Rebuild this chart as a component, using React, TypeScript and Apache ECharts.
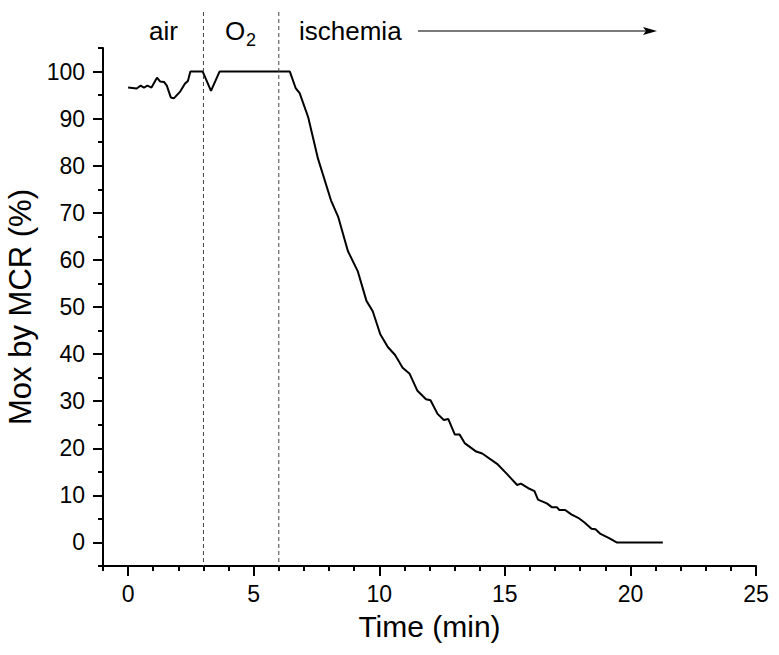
import React, { useEffect, useRef } from "react";
import * as echarts from "echarts";

const timeMin = [0, 0.34, 0.5, 0.63, 0.77, 0.93, 1.15, 1.27, 1.43, 1.54, 1.7, 1.82, 2.08, 2.26, 2.38, 2.48, 2.97, 3.3, 3.64, 6.44, 6.67, 6.83, 7.17, 7.56, 8.08, 8.36, 8.75, 9.15, 9.49, 9.74, 10.04, 10.34, 10.63, 10.93, 11.21, 11.52, 11.86, 12.04, 12.32, 12.57, 12.75, 13.01, 13.2, 13.4, 13.86, 14.1, 14.69, 15.09, 15.49, 15.64, 15.98, 16.18, 16.32, 16.67, 16.87, 17.07, 17.17, 17.4, 17.66, 17.96, 18.16, 18.45, 18.61, 18.81, 19.15, 19.45, 21.29];
const moxPct = [96.6, 96.4, 97.0, 96.6, 97.0, 96.6, 98.7, 97.9, 97.8, 97.0, 94.5, 94.3, 95.8, 97.4, 98.0, 100, 100, 95.9, 100, 100, 96.5, 95.4, 90.3, 81.5, 72.6, 69.2, 61.9, 57.5, 51.3, 49.1, 44.2, 41.5, 39.8, 37.1, 35.8, 32.2, 30.4, 30.2, 27.3, 26.0, 26.2, 22.9, 22.9, 21.1, 19.3, 18.9, 16.7, 14.5, 12.2, 12.5, 11.4, 10.9, 9.1, 8.3, 7.5, 7.5, 6.9, 6.9, 5.9, 5.1, 4.3, 2.9, 2.8, 1.8, 0.9, 0, 0];

const xMajorTicks = [0, 5, 10, 15, 20, 25];
const yMajorTicks = [0, 10, 20, 30, 40, 50, 60, 70, 80, 90, 100];
const phaseBoundaries = [3, 6];
const xTitle = "Time (min)";
const yTitle = "Mox by MCR (%)";

export default function App() {
  const ref = useRef<HTMLDivElement>(null);
  useEffect(() => {
    document.body.style.margin = "0";
    const chart = echarts.init(ref.current!, null, { renderer: "svg" });
    const font = "Arial, 'Liberation Sans', sans-serif";
    const black = "#000";
    const axisBase = {
      type: "value" as const,
      splitLine: { show: false },
    };
    chart.setOption({
      animation: false,
      backgroundColor: "#fff",
      grid: { left: 103, right: 23, top: 48, bottom: 89, outerBoundsMode: "none" },
      xAxis: [
        {
          ...axisBase,
          min: -1,
          max: 25,
          interval: 1,
          position: "bottom",
          axisLine: { onZero: false, lineStyle: { color: black, width: 2 } },
          axisTick: { length: 5, lineStyle: { color: black, width: 2 } },
          axisLabel: {
            formatter: (v: number) => (v % 5 === 0 && v >= 0 ? String(v) : ""),
            fontSize: 23,
            fontFamily: font,
            color: black,
            margin: 16,
          },
          name: xTitle,
          nameLocation: "middle",
          nameGap: 45,
          nameTextStyle: { fontSize: 30, fontFamily: font, color: black },
        },
        {
          ...axisBase,
          min: -1,
          max: 25,
          position: "bottom",
          axisLine: { show: false, onZero: false },
          axisTick: { customValues: xMajorTicks, length: 10, lineStyle: { color: black, width: 2 } },
          axisLabel: { show: false },
        },
      ],
      yAxis: [
        {
          ...axisBase,
          min: -5,
          max: 105,
          interval: 5,
          position: "left",
          axisLine: { onZero: false, lineStyle: { color: black, width: 2 } },
          axisTick: { length: 5, lineStyle: { color: black, width: 2 } },
          axisLabel: {
            formatter: (v: number) => (v % 10 === 0 && v >= 0 && v <= 100 ? String(v) : ""),
            fontSize: 23,
            fontFamily: font,
            color: black,
            margin: 18,
          },
          name: yTitle,
          nameLocation: "middle",
          nameGap: 64,
          nameTextStyle: { fontSize: 31, fontFamily: font, color: black },
        },
        {
          ...axisBase,
          min: -5,
          max: 105,
          position: "left",
          axisLine: { show: false, onZero: false },
          axisTick: { customValues: yMajorTicks, length: 10, lineStyle: { color: black, width: 2 } },
          axisLabel: { show: false },
        },
      ],
      series: [
        {
          type: "line",
          xAxisIndex: 0,
          yAxisIndex: 0,
          data: timeMin.map((t, i) => [t, moxPct[i]]),
          showSymbol: false,
          symbol: "none",
          lineStyle: { color: black, width: 2 },
          silent: true,
        },
      ],
    });

    const bottomY = chart.convertToPixel({ yAxisIndex: 0 }, -5) as number;
    const dashed = phaseBoundaries.map((t) => {
      const x = chart.convertToPixel({ xAxisIndex: 0 }, t) as number;
      return {
        type: "line",
        shape: { x1: x, y1: 12, x2: x, y2: bottomY },
        style: { stroke: "#444", lineWidth: 1, lineDash: [4, 3] },
        z: 5,
      };
    });
    const textStyle = { font: `26px ${font}`, fill: black, verticalAlign: "middle" };
    chart.setOption({
      graphic: [
        ...dashed,
        { type: "text", x: 149, y: 31, style: { ...textStyle, text: "air" } },
        { type: "text", x: 225, y: 31, style: { ...textStyle, text: "O" } },
        { type: "text", x: 246, y: 40, style: { ...textStyle, font: `18px ${font}`, text: "2" } },
        { type: "text", x: 299, y: 31, style: { ...textStyle, text: "ischemia" } },
        {
          type: "line",
          shape: { x1: 418, y1: 31, x2: 648, y2: 31 },
          style: { stroke: "#7a7a7a", lineWidth: 2 },
        },
        {
          type: "polygon",
          shape: { points: [[643, 27], [657, 31], [643, 35], [646, 31]] },
          style: { fill: black },
        },
      ],
    });
    return () => chart.dispose();
  }, []);
  return <div ref={ref} style={{ width: 779, height: 655 }} />;
}
